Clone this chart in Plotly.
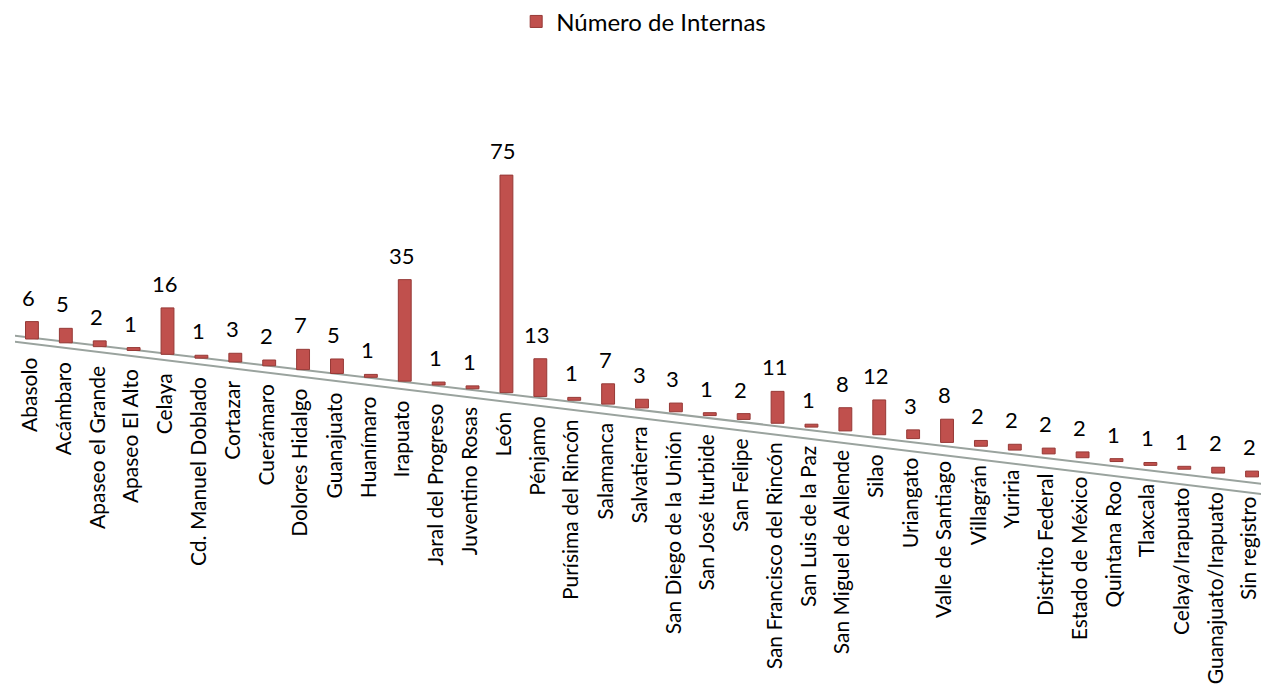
import plotly.graph_objects as go

categorias = [
    "Abasolo", "Acámbaro", "Apaseo el Grande", "Apaseo El Alto", "Celaya",
    "Cd. Manuel Doblado", "Cortazar", "Cuerámaro", "Dolores Hidalgo", "Guanajuato",
    "Huanímaro", "Irapuato", "Jaral del Progreso", "Juventino Rosas", "León",
    "Pénjamo", "Purísima del Rincón", "Salamanca", "Salvatierra", "San Diego de la Unión",
    "San José Iturbide", "San Felipe", "San Francisco del Rincón", "San Luis de la Paz",
    "San Miguel de Allende", "Silao", "Uriangato", "Valle de Santiago", "Villagrán",
    "Yuriria", "Distrito Federal", "Estado de México", "Quintana Roo", "Tlaxcala",
    "Celaya/Irapuato", "Guanajuato/Irapuato", "Sin registro",
]
internas = [6, 5, 2, 1, 16, 1, 3, 2, 7, 5, 1, 35, 1, 1, 75, 13, 1, 7, 3, 3,
            1, 2, 11, 1, 8, 12, 3, 8, 2, 2, 2, 2, 1, 1, 1, 2, 2]

FONT = "Lato"
ROJO = "#c0504d"

# la pagina tiene 8px de margen en el body
W, H = 1261, 692

# escala vertical (px por interna) y caida del piso en perspectiva
PX_UNIDAD = 2.9
CAIDA = 3.83 / PX_UNIDAD
TOP, BOTTOM, PISO0 = 52, 60, 331

pos = list(range(len(categorias)))
base = [-CAIDA * i for i in pos]

fig = go.Figure()

# piso inclinado (dos lineas grises)
def piso(x, extra):
    return -CAIDA * x + extra

for x0, x1, e0, e1 in [(-0.8, 36.55, 0.5, -2.0), (-0.8, 36.55, -1.6, -5.6)]:
    fig.add_shape(type="line", xref="x", yref="y",
                  x0=x0, x1=x1, y0=piso(x0, e0), y1=piso(x1, e1),
                  line=dict(color="#9aa39e", width=2), layer="below")

fig.add_trace(go.Bar(
    x=pos,
    y=internas,
    base=base,
    width=0.38,
    name="Número de Internas",
    marker=dict(color=ROJO, line=dict(color="#963936", width=1)),
    showlegend=True,
))

for i, (cat, v) in enumerate(zip(categorias, internas)):
    fig.add_annotation(x=i, y=base[i], text=cat, showarrow=False,
                       textangle=-90, xanchor="center", yanchor="top",
                       xshift=-4, yshift=-17,
                       font=dict(family=FONT, size=21, color="#000000"))
    fig.add_annotation(x=i, y=base[i] + v, text=str(v), showarrow=False,
                       xanchor="center", yanchor="bottom",
                       xshift=-3, yshift=9,
                       font=dict(family=FONT, size=22, color="#000000"))

fig.update_layout(
    width=W,
    height=H,
    plot_bgcolor="#ffffff",
    paper_bgcolor="#ffffff",
    font=dict(family=FONT, size=21, color="#000000"),
    margin=dict(l=7, r=0, t=TOP, b=BOTTOM),
    bargap=0.6,
    xaxis=dict(range=[-0.5, 36.5], visible=False, showgrid=False, zeroline=False),
    yaxis=dict(
        range=[-(H - BOTTOM - PISO0) / PX_UNIDAD, (PISO0 - TOP) / PX_UNIDAD],
        visible=False, showgrid=False, zeroline=False,
    ),
    showlegend=True,
    legend=dict(
        orientation="h",
        x=0.403, xanchor="left", xref="container",
        y=0.98, yanchor="middle", yref="container",
        font=dict(family=FONT, size=24, color="#000000"),
    ),
)

fig.write_html("out.html")
